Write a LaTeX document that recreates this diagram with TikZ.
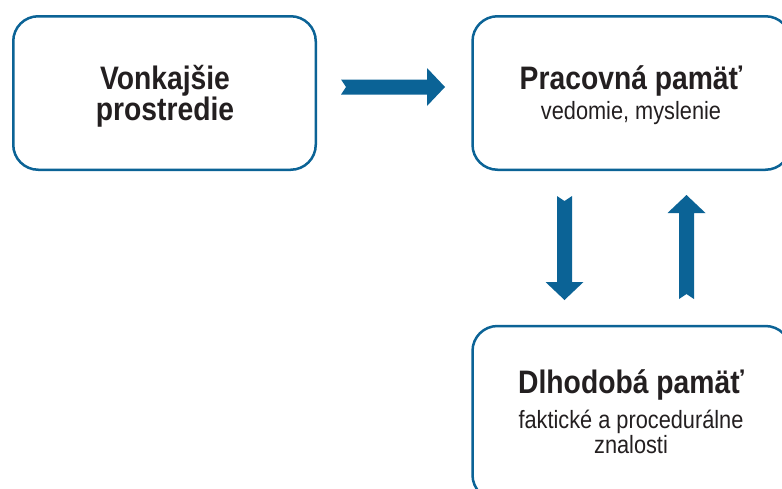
\documentclass[tikz,border=0pt]{standalone}
\usepackage{fontspec}
\setmainfont[FakeStretch=0.87]{Liberation Sans}
\usepackage{xcolor}
\usepackage{tikz}
\usetikzlibrary{positioning}
\definecolor{boxblue}{HTML}{0B6396}
\definecolor{inkblack}{HTML}{231F20}

\begin{document}
\begin{tikzpicture}[
  x=1pt, y=1pt,
  box/.style={draw=boxblue, line width=2.5pt, rounded corners=25pt, fill=white, inner sep=0pt},
  title/.style={font=\fontsize{32.5}{32.5}\selectfont\bfseries, text=inkblack, anchor=base, inner sep=0pt},
  sub/.style={font=\fontsize{25}{25}\selectfont, text=inkblack, anchor=base, inner sep=0pt},
  barrow/.pic={\fill[boxblue] (0,7.5) -- (86,7.5) -- (86,19) -- (104,0) -- (86,-19) -- (86,-7.5) -- (0,-7.5) -- (5,0) -- cycle;}
]
\useasboundingbox (0,0) rectangle (782,-488);
\clip (0,0) rectangle (782,-488);

%% Boxes
\node[box, minimum width=302.5pt, minimum height=153.5pt] (env)  at (164.5,-93)  {};
\node[box, minimum width=318pt,   minimum height=153.5pt] (work) at (631.5,-93)  {};
\node[box, minimum width=318pt,   minimum height=174pt]   (long) at (631.5,-413) {};

%% Texts
\node[title] (envA)  at (165,-89.3)  {Vonkajšie};
\node[title] (envB)  at (165,-120.5) {prostredie};

\node[title] (workA) at (631,-89.3)  {Pracovná pamäť};
\node[sub]   (workB) at (631,-119.3) {vedomie, myslenie};

\node[title] (longA) at (631,-393.3) {Dlhodobá pamäť};
\node[sub]   (longB) at (631,-428.5) {faktické a procedurálne};
\node[sub]   (longC) at (631,-453.3) {znalosti};

%% Arrows
\coordinate (toWork) at (341,-87);
\coordinate (toLong) at (564.5,-196);
\coordinate (toBack) at (686.5,-299);
\pic at (toWork) {barrow};
\pic[rotate=-90] at (toLong) {barrow};
\pic[rotate=90]  at (toBack) {barrow};

\end{tikzpicture}
\end{document}
